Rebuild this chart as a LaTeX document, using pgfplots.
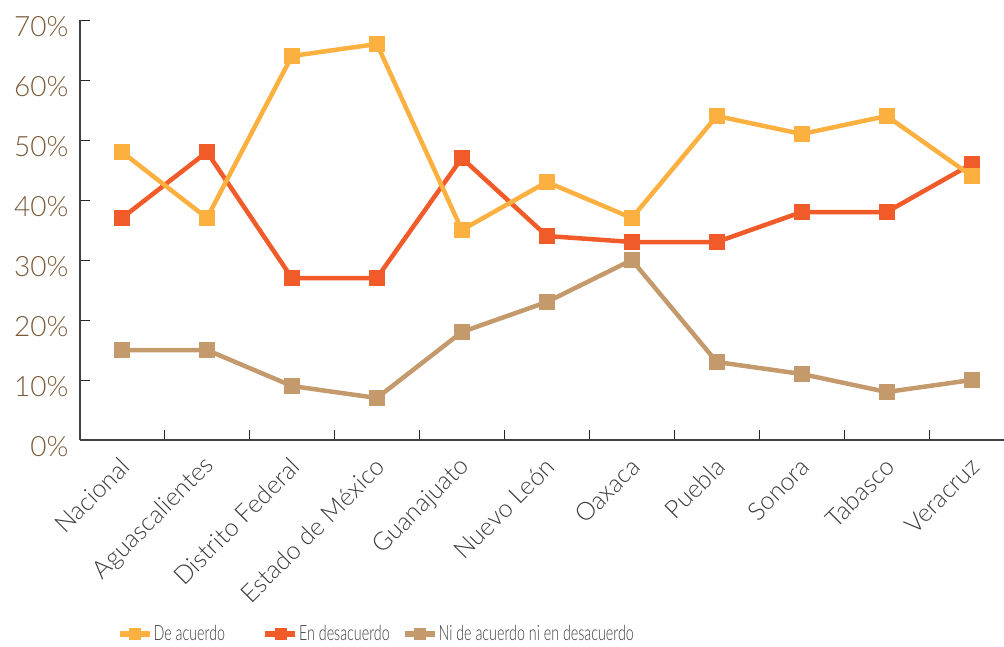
\documentclass[border=0pt]{standalone}
\usepackage{pgfplots}
\pgfplotsset{compat=1.18}
\usepackage{fontspec}
\setmainfont{Lato}[UprightFont={* Light}]
\definecolor{cA}{HTML}{FBB040}
\definecolor{cB}{HTML}{F15A29}
\definecolor{cC}{HTML}{C49A6C}
\definecolor{ylab}{HTML}{7B5B3A}
\definecolor{xlab}{HTML}{3C3C3C}
\begin{document}
\begin{tikzpicture}
\begin{axis}[
  at={(0,0)}, anchor=south west,
  scale only axis, width=924pt, height=420pt,
  xmin=-0.494, xmax=10.38, ymin=0, ymax=70,
  axis x line=bottom, axis y line=left,
  axis line style={-, draw=black!75, line width=1.2pt},
  tick align=inside,
  xtick={0,...,10},
  xticklabels={Nacional, Aguascalientes, Distrito Federal, Estado de México, Guanajuato, Nuevo León, Oaxaca, Puebla, Sonora, Tabasco, Veracruz},
  major x tick style={draw=none},
  minor xtick={0.5,1.5,...,9.5},
  minor tick length=10pt,
  major tick length=10pt,
  minor x tick style={black!85, line width=0.9pt},
  y tick style={black!85, line width=0.9pt},
  ytick={0,10,...,70},
  /pgf/number format/assume math mode=true,
  yticklabel={\pgfmathprintnumber{\tick}\%},
  yticklabel style={font=\fontsize{28}{32}\selectfont, text=ylab, xshift=-8pt, yshift=-7pt},
  xticklabel style={xshift=6pt, yshift=-20pt, rotate=45, anchor=east, font=\fontsize{25}{30}\selectfont, text=xlab},
  reverse legend,
  legend columns=-1,
  legend style={at={(axis description cs:0.04,-0.462)}, anchor=west, draw=none, fill=none,
    inner sep=0pt, nodes={inner sep=0pt},
    font=\fontsize{21}{24}\selectfont\addfontfeature{FakeStretch=0.68}, text=xlab},
  legend image code/.code={\draw[#1, line width=5.5pt, mark=none] (0pt,0pt) -- (30pt,0pt);
     \draw[#1, line width=1pt, mark size=5.5pt, mark repeat=2, mark phase=2] plot coordinates {(0pt,0pt) (15pt,0pt) (30pt,0pt)};},
]
\addplot[cC, line width=4.5pt, mark=square*, mark size=7.5pt, mark options={line width=0.5pt}] coordinates {
(0,15) (1,15) (2,9) (3,7) (4,18) (5,23) (6,30) (7,13) (8,11) (9,8) (10,10)};
\addlegendentry{\hspace{1pt}Ni de acuerdo ni en desacuerdo}
\addplot[cB, line width=4.5pt, mark=square*, mark size=7.5pt, mark options={line width=0.5pt}] coordinates {
(0,37) (1,48) (2,27) (3,27) (4,47) (5,34) (6,33) (7,33) (8,38) (9,38) (10,46)};
\addlegendentry{\makebox[104pt][l]{\hspace{1pt}En desacuerdo}}
\addplot[cA, line width=4.5pt, mark=square*, mark size=7.5pt, mark options={line width=0.5pt}] coordinates {
(0,48) (1,37) (2,64) (3,66) (4,35) (5,43) (6,37) (7,54) (8,51) (9,54) (10,44)};
\addlegendentry{\makebox[110pt][l]{\hspace{1pt}De acuerdo}}
\end{axis}
\pgfresetboundingbox
\path (-80pt,-206pt) rectangle (924pt,440pt);
\end{tikzpicture}
\end{document}
